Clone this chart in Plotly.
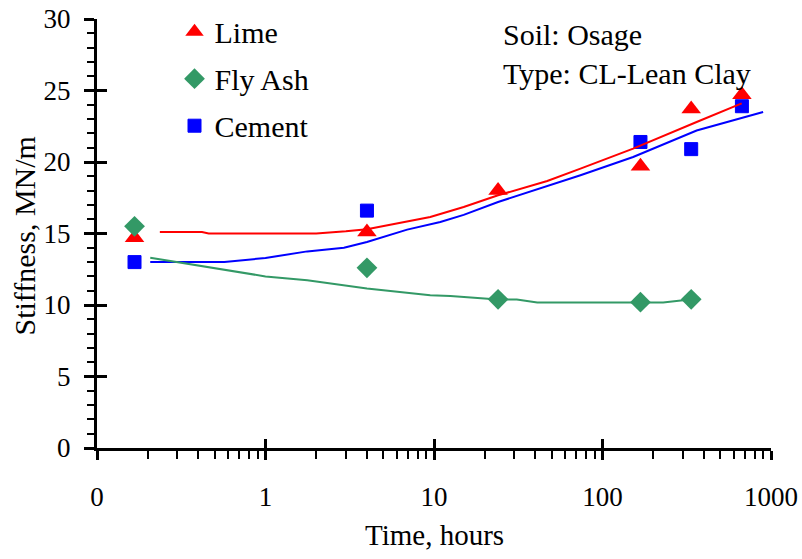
import plotly.graph_objects as go

# Measured stiffness (MN/m) against curing time (hours)
lime_time = [0.167, 4, 24, 168, 336, 672]
lime_stiff = [14.7, 15.1, 18.0, 19.7, 23.7, 24.7]

flyash_time = [0.167, 4, 24, 168, 336]
flyash_stiff = [15.5, 12.6, 10.4, 10.2, 10.4]

cement_time = [0.167, 4, 168, 336, 672]
cement_stiff = [13.0, 16.6, 21.4, 20.9, 23.9]

# Fitted trend curves
lime_fit_time = [0.236, 0.42, 0.46, 2.0, 3.0, 4, 9.5, 15, 24, 47, 74, 152, 362, 670]
lime_fit_stiff = [15.1, 15.1, 15.0, 15.0, 15.15, 15.3, 16.15, 16.85, 17.67, 18.67, 19.54, 20.94, 22.8, 24.1]

cement_fit_time = [0.207, 0.57, 1.0, 1.77, 2.92, 4, 6.93, 10.9, 15, 24, 74, 152, 362, 898]
cement_fit_stiff = [13.0, 13.0, 13.29, 13.75, 14.0, 14.4, 15.27, 15.8, 16.3, 17.2, 19.07, 20.35, 22.2, 23.5]

flyash_fit_time = [0.207, 1.0, 1.77, 4, 9.5, 12.5, 24, 31, 41, 229, 330, 378]
flyash_fit_stiff = [13.3, 12.0, 11.73, 11.15, 10.68, 10.63, 10.38, 10.38, 10.17, 10.17, 10.38, 10.38]

# Axis ticks
x_major = [0.1, 1, 10, 100, 1000]
x_major_text = ["0", "1", "10", "100", "1000"]
x_minor = [m * d for d in (0.1, 1, 10, 100) for m in range(2, 10)]

RED = "#FF0000"
GREEN = "#339966"
BLUE = "#0000FF"
FONT = "Liberation Serif"

fig = go.Figure()

# Measured points
fig.add_trace(go.Scatter(
    x=lime_time, y=lime_stiff, mode="markers", name="Lime",
    marker=dict(symbol="triangle-up", size=17, color=RED),
    legendgroup="a"))
fig.add_trace(go.Scatter(
    x=flyash_time, y=flyash_stiff, mode="markers", name="Fly Ash",
    marker=dict(symbol="diamond", size=16, color=GREEN),
    legendgroup="b"))
fig.add_trace(go.Scatter(
    x=cement_time, y=cement_stiff, mode="markers", name="Cement",
    marker=dict(symbol="square", size=13, color=BLUE,
                line=dict(color=BLUE, width=1)),
    legendgroup="c"))

# Trend curves drawn on the overlay axes (same ranges)
for t, s, c in [(lime_fit_time, lime_fit_stiff, RED),
                (cement_fit_time, cement_fit_stiff, BLUE),
                (flyash_fit_time, flyash_fit_stiff, GREEN)]:
    fig.add_trace(go.Scatter(x=t, y=s, mode="lines", xaxis="x2", yaxis="y2",
                             line=dict(color=c, width=2), showlegend=False,
                             hoverinfo="skip"))

fig.update_layout(
    width=802, height=559,
    margin=dict(l=97, r=31, t=19, b=111, autoexpand=False),
    paper_bgcolor="white", plot_bgcolor="white",
    font=dict(family=FONT, color="black"),
    xaxis=dict(
        type="log", range=[-1, 3], automargin=False,
        tickvals=x_major, ticktext=x_major_text,
        ticks="outside", ticklen=9, tickwidth=2.5, tickcolor="black",
        minor=dict(tickvals=x_minor, ticks="outside", ticklen=8,
                   tickwidth=2, tickcolor="black", showgrid=False),
        showline=True, linewidth=3, linecolor="black",
        showgrid=False, zeroline=False,
        tickfont=dict(family=FONT, size=27, color="black"),
        ticklabelstandoff=14,
    ),
    xaxis2=dict(
        type="log", range=[-1, 3], overlaying="x", anchor="y2",
        tickvals=x_major, ticks="inside", ticklen=9, tickwidth=2.5,
        tickcolor="black", showticklabels=False, showline=False,
        showgrid=False, zeroline=False,
    ),
    yaxis=dict(
        range=[0, 30], tick0=0, dtick=5, automargin=False,
        ticks="outside", ticklen=10, tickwidth=2.5, tickcolor="black",
        minor=dict(dtick=1, ticks="outside", ticklen=7, tickwidth=2,
                   tickcolor="black", showgrid=False),
        showline=True, linewidth=3, linecolor="black",
        showgrid=False, zeroline=False,
        tickfont=dict(family=FONT, size=27, color="black"),
        ticklabelstandoff=8,
    ),
    yaxis2=dict(
        range=[0, 30], overlaying="y", anchor="x2", tick0=0, dtick=5,
        ticks="inside", ticklen=10, tickwidth=2.5, tickcolor="black",
        showticklabels=False, showline=False, showgrid=False, zeroline=False,
    ),
    legend=dict(
        x=0.115, y=1.031, xanchor="left", yanchor="top",
        bgcolor="rgba(0,0,0,0)", borderwidth=0,
        font=dict(family=FONT, size=30, color="black"),
        tracegroupgap=5, itemsizing="trace",
    ),
    showlegend=True,
    annotations=[
        dict(text="Soil: Osage", xref="paper", yref="paper",
             x=0.600, y=0.963, xanchor="left", yanchor="middle",
             showarrow=False, font=dict(family=FONT, size=30, color="black")),
        dict(text="Type: CL-Lean Clay", xref="paper", yref="paper",
             x=0.600, y=0.872, xanchor="left", yanchor="middle",
             showarrow=False, font=dict(family=FONT, size=30, color="black")),
        dict(text="Time, hours", xref="paper", yref="paper",
             x=0.5, y=-0.202, xanchor="center", yanchor="middle",
             showarrow=False, font=dict(family=FONT, size=29, color="black")),
        dict(text="Stiffness, MN/m", xref="paper", yref="paper",
             x=-0.107, y=0.495, xanchor="center", yanchor="middle",
             textangle=-90, showarrow=False,
             font=dict(family=FONT, size=30, color="black")),
    ],
)

fig.write_html("out.html")
